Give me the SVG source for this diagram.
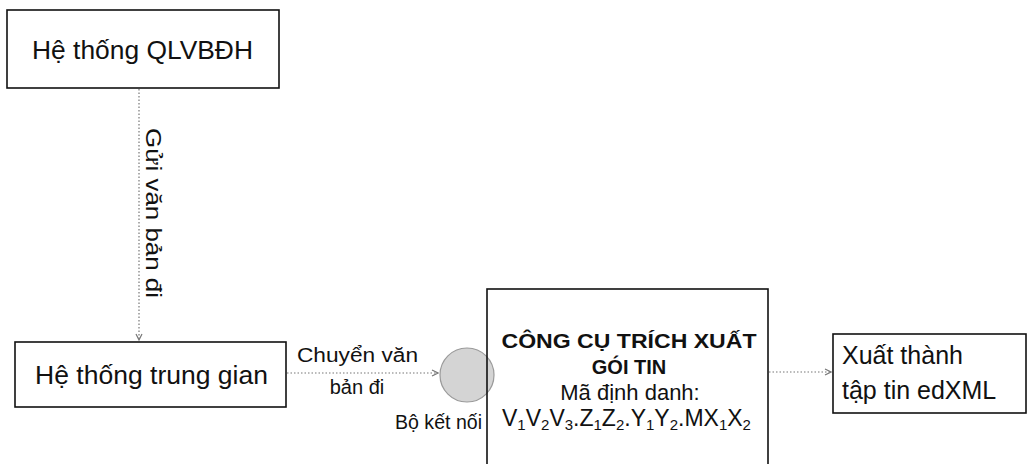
<svg xmlns="http://www.w3.org/2000/svg" width="1028" height="464" viewBox="0 0 1028 464">
<style>
.box{fill:#fff;stroke:#111;stroke-width:1.6}
.t{font-family:"Liberation Sans",Arial,sans-serif;fill:#111}
.conn{stroke:#777;stroke-width:1.2;stroke-dasharray:1.5 2;fill:none}
.sub{font-size:15px}
</style>
<defs>
<marker id="ah" viewBox="0 0 8 8" refX="7" refY="4" markerWidth="8" markerHeight="8" markerUnits="userSpaceOnUse" orient="auto">
<path d="M1,1 L7,4 L1,7" fill="none" stroke="#777" stroke-width="1.2"/>
</marker>
</defs>
<rect width="1028" height="464" fill="#fff"/>
<g id="connectors">
<line class="conn" x1="139" y1="89" x2="139" y2="340" marker-end="url(#ah)"/>
<line class="conn" x1="287" y1="373" x2="438" y2="373" marker-end="url(#ah)"/>
<line class="conn" x1="769" y1="372" x2="831" y2="372" marker-end="url(#ah)"/>
</g>
<g id="edge-labels">
<text class="t" font-size="22" transform="translate(146,128) rotate(90)" textLength="170" lengthAdjust="spacingAndGlyphs">Gửi văn bản đi</text>
<text class="t" font-size="20" x="297" y="362" textLength="121" lengthAdjust="spacingAndGlyphs">Chuyển văn</text>
<text class="t" font-size="20" x="357" y="394" text-anchor="middle">bản đi</text>
</g>
<g id="node-qlvbdh">
<rect class="box" x="7" y="10" width="272" height="78"/>
<text class="t" font-size="25" x="32" y="59" textLength="221" lengthAdjust="spacingAndGlyphs">Hệ thống QLVBĐH</text>
</g>
<g id="node-trunggian">
<rect class="box" x="15" y="342" width="271" height="65"/>
<text class="t" font-size="25" x="35" y="384" textLength="233" lengthAdjust="spacingAndGlyphs">Hệ thống trung gian</text>
</g>
<g id="node-connector">
<circle cx="467" cy="375" r="27" fill="#d4d4d4" stroke="#9a9a9a" stroke-width="1.2"/>
<text class="t" font-size="20" x="482" y="429" text-anchor="end" textLength="87" lengthAdjust="spacingAndGlyphs">Bộ kết nối</text>
</g>
<g id="node-tool">
<rect x="487" y="289" width="281" height="180" fill="none" stroke="#111" stroke-width="1.6"/>
<text class="t" font-size="20" font-weight="bold" x="629" y="348" text-anchor="middle" textLength="255" lengthAdjust="spacingAndGlyphs">CÔNG CỤ TRÍCH XUẤT</text>
<text class="t" font-size="20" font-weight="bold" x="629" y="374" text-anchor="middle">GÓI TIN</text>
<text class="t" font-size="22" x="630" y="400" text-anchor="middle">Mã định danh:</text>
<text class="t" font-size="23" x="502" y="426">V<tspan class="sub" dy="4">1</tspan><tspan dy="-4">V</tspan><tspan class="sub" dy="4">2</tspan><tspan dy="-4">V</tspan><tspan class="sub" dy="4">3</tspan><tspan dy="-4">.Z</tspan><tspan class="sub" dy="4">1</tspan><tspan dy="-4">Z</tspan><tspan class="sub" dy="4">2</tspan><tspan dy="-4">.Y</tspan><tspan class="sub" dy="4">1</tspan><tspan dy="-4">Y</tspan><tspan class="sub" dy="4">2</tspan><tspan dy="-4">.MX</tspan><tspan class="sub" dy="4">1</tspan><tspan dy="-4">X</tspan><tspan class="sub" dy="4">2</tspan></text>
</g>
<g id="node-edxml">
<rect class="box" x="833" y="334" width="193" height="79"/>
<text class="t" font-size="25" x="842" y="364">Xuất thành</text>
<text class="t" font-size="25" x="842" y="399">tập tin edXML</text>
</g>
</svg>
